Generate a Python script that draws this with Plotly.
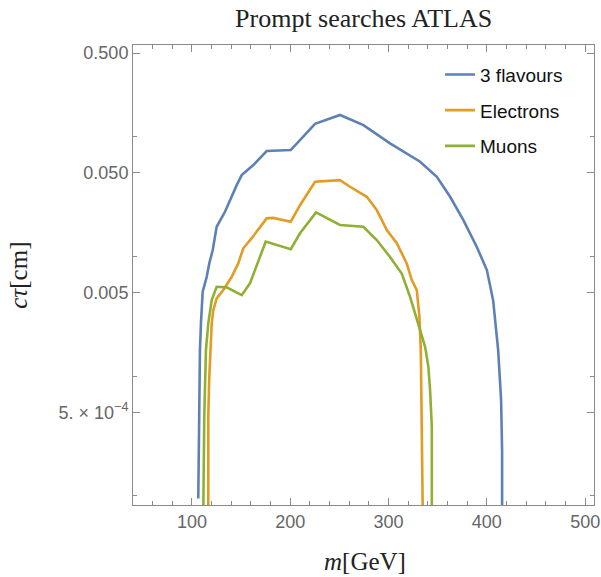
import plotly.graph_objects as go

# ---- data ----
m_3flav = [106.4, 107.4, 108.1, 109.2, 110.9, 113.2, 115.0, 117.6, 121.1, 125.1, 133.6, 145.5, 150.6,
           162.4, 176.0, 200.5, 209.9, 225.2, 250.6, 274.4, 301.5, 332.1, 349.1, 362.6, 376.1, 389.8,
           400.0, 406.4, 411.5, 414.5, 415.5, 415.5]
ct_3flav = [9.5e-5, 8.7e-4, 1.65e-3, 2.85e-3, 5.07e-3, 5.96e-3, 6.76e-3, 8.75e-3, 0.0113, 0.0177, 0.0236,
            0.0394, 0.0478, 0.058, 0.0759, 0.0774, 0.0938, 0.128, 0.152, 0.125, 0.088, 0.0618, 0.0463,
            0.0315, 0.0201, 0.0120, 7.7e-3, 4.3e-3, 1.65e-3, 6.3e-4, 2.4e-4, 7e-5]

m_el = [116.6, 116.6, 117.6, 120.1, 121.7, 125.1, 131.9, 140.4, 147.1, 152.2, 160.8, 176.0, 182.7,
        200.5, 209.9, 225.2, 250.6, 260.8, 277.8, 288.0, 298.2, 308.4, 318.5, 323.6, 328.7, 331.4,
        332.8, 333.8, 334.8]
ct_el = [7e-5, 4.6e-4, 9.9e-4, 2.76e-3, 3.56e-3, 4.47e-3, 5.24e-3, 6.76e-3, 8.75e-3, 0.0117, 0.0142,
         0.0208, 0.0210, 0.0195, 0.0268, 0.042, 0.0434, 0.0382, 0.0315, 0.0244, 0.0166, 0.0129,
         8.75e-3, 6.35e-3, 5.24e-3, 3.13e-3, 1.65e-3, 4.6e-4, 7e-5]

m_mu = [111.5, 112.5, 114.2, 116.6, 120.1, 125.1, 135.3, 150.6, 159.0, 167.5, 175.0, 200.5, 209.9,
        226.2, 250.6, 274.4, 288.0, 301.5, 313.4, 321.9, 332.1, 337.2, 340.5, 342.2, 344.0, 344.0]
ct_mu = [7e-5, 4.6e-4, 1.65e-3, 2.76e-3, 4.32e-3, 5.58e-3, 5.52e-3, 4.75e-3, 5.96e-3, 9.3e-3, 0.0133,
         0.0115, 0.0156, 0.0233, 0.0183, 0.0177, 0.0137, 9.9e-3, 7.2e-3, 4.6e-3, 2.43e-3, 1.76e-3,
         1.2e-3, 7.7e-4, 3.8e-4, 7e-5]

series_names = ["3 flavours", "Electrons", "Muons"]
series_colors = ["#5E81B5", "#E19C24", "#8FB032"]

x_tickvals = [100, 200, 300, 400, 500]
y_tickvals = [0.5, 0.05, 0.005, 0.0005]
y_ticktext = ["0.500", "0.050", "0.005", "5. × 10<sup>−4</sup>"]
y_minorvals = [0.1, 0.01, 0.001, 0.0001]

fig = go.Figure()
for i, (xs, ys) in enumerate([(m_3flav, ct_3flav), (m_el, ct_el), (m_mu, ct_mu)]):
    fig.add_trace(go.Scatter(x=xs, y=ys, mode="lines", name=series_names[i],
                             legendgroup=series_names[i],
                             line=dict(color=series_colors[i], width=2.6)))

axis_common = dict(showgrid=False, zeroline=False, showline=True, linecolor="#8a8a8a", linewidth=1,
                   mirror="ticks", ticks="inside", tickcolor="#8a8a8a", ticklen=7, tickwidth=1,
                   automargin=False,
                   tickfont=dict(family="Liberation Sans, Arial", size=18, color="#666666"))

serif = "Liberation Serif, Times New Roman"

fig.update_layout(
    width=601, height=577,
    margin=dict(l=133, r=7, t=45, b=72, autoexpand=False),
    paper_bgcolor="white", plot_bgcolor="white",
    title=dict(text="Prompt searches ATLAS", x=0.605, xanchor="center", xref="container",
               y=1 - 18 / 577, yanchor="middle", yref="container",
               font=dict(family=serif, size=26, color="#222222")),
    legend=dict(x=0.666, y=0.977, xanchor="left", yanchor="top", bgcolor="rgba(0,0,0,0)",
                font=dict(family="Liberation Sans, Arial", size=19, color="#111111"),
                tracegroupgap=8),
    showlegend=True,
    annotations=[
        dict(text="<i>m</i>[GeV]", xref="paper", yref="paper", x=0.504, y=-0.123,
             xanchor="center", yanchor="middle", showarrow=False,
             font=dict(family=serif, size=25, color="#222222")),
        dict(text="<i>cτ</i>[cm]", xref="paper", yref="paper", x=-0.25, y=0.5,
             xanchor="center", yanchor="middle", showarrow=False, textangle=-90,
             font=dict(family=serif, size=25, color="#222222")),
    ],
)

fig.update_xaxes(range=[40, 509], tickmode="array", tickvals=x_tickvals,
                 minor=dict(tickmode="linear", tick0=0, dtick=20, ticks="inside", ticklen=4,
                            tickcolor="#8a8a8a"),
                 **axis_common)
fig.update_yaxes(type="log", range=[-4.076, -0.234], tickmode="array", tickvals=y_tickvals,
                 ticktext=y_ticktext,
                 minor=dict(tickmode="array", tickvals=y_minorvals, ticks="inside", ticklen=4,
                            tickcolor="#8a8a8a"),
                 **axis_common)

fig.write_html("out.html", config={"displayModeBar": False},
               post_script="document.body.style.margin='0';document.body.style.overflow='hidden';")
